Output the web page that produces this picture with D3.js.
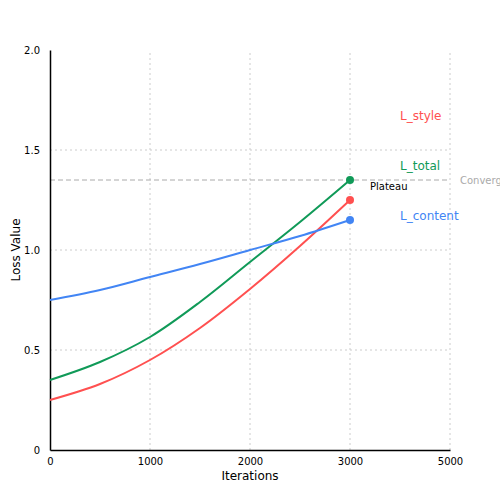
<!DOCTYPE html><html><head><script src="https://cdn.jsdelivr.net/npm/d3@7"></script>
<style>body{margin:0;background:#fff}text{font-family:"DejaVu Sans",sans-serif}</style></head><body>
<svg id="c" width="500" height="500"></svg>
<script>
const iters=[0,500,1000,1500,2000,2500,3000];
const lContent=[0.75,0.80,0.865,0.93,1.0,1.07,1.15];
const lTotal=[0.35,0.44,0.565,0.74,0.94,1.14,1.35];
const lStyle=[0.25,0.33,0.45,0.61,0.805,1.02,1.25];
const xTicks=[0,1000,2000,3000,4000];
const xTickLabels=["0","1000","2000","3000","5000"];
const yTicks=[0,0.5,1.0,1.5,2.0];
const yTickLabels=["0","0.5","1.0","1.5","2.0"];
const series=[{name:"L_style",v:lStyle,c:"#ff5050",ly:1.67},{name:"L_total",v:lTotal,c:"#109a58",ly:1.42},{name:"L_content",v:lContent,c:"#4285f4",ly:1.17}];
const svg=d3.select("#c");
const x=d3.scaleLinear().domain([0,4000]).range([50,450]);
const y=d3.scaleLinear().domain([0,2]).range([450,50]);
const g=svg.append("g");
[1000,2000,3000,4000].forEach(t=>g.append("line").attr("x1",x(t)).attr("x2",x(t)).attr("y1",y(0)).attr("y2",y(2)).attr("stroke","#ccc").attr("stroke-dasharray","2,3"));
[0.5,1,1.5].forEach(t=>g.append("line").attr("x1",x(0)).attr("x2",x(4000)).attr("y1",y(t)).attr("y2",y(t)).attr("stroke","#ccc").attr("stroke-dasharray","2,3"));
g.append("line").attr("x1",x(0)).attr("x2",x(4000)).attr("y1",y(1.35)).attr("y2",y(1.35)).attr("stroke","#aaa").attr("stroke-dasharray","5,3");
svg.append("text").attr("x",460).attr("y",y(1.35)+4).attr("font-size",10).attr("fill","#aaa").text("Convergence");
const xa=svg.append("g").attr("transform","translate(0,450)").call(d3.axisBottom(x).tickValues(xTicks).tickFormat((d,i)=>xTickLabels[i]).tickSize(0).tickPadding(8));
const ya=svg.append("g").attr("transform","translate(50,0)").call(d3.axisLeft(y).tickValues(yTicks).tickFormat((d,i)=>yTickLabels[i]).tickSize(0).tickPadding(10));
[xa,ya].forEach(a=>{a.select(".domain").attr("stroke","#000").attr("stroke-width",1.5);a.selectAll("text").attr("font-size",10).attr("font-family","DejaVu Sans");});
const line=d3.line().x((d,i)=>x(iters[i])).y(d=>y(d)).curve(d3.curveCatmullRom);
series.forEach(s=>{
svg.append("path").attr("d",line(s.v)).attr("fill","none").attr("stroke",s.c).attr("stroke-width",2);
svg.append("circle").attr("cx",x(3000)).attr("cy",y(s.v[6])).attr("r",4).attr("fill",s.c);
svg.append("text").attr("x",400).attr("y",y(s.ly)+4).attr("font-size",12).attr("fill",s.c).text(s.name);
});
svg.append("text").attr("x",370).attr("y",190).attr("font-size",10).text("Plateau");
svg.append("text").attr("x",250).attr("y",480).attr("text-anchor","middle").attr("font-size",12).text("Iterations");
svg.append("text").attr("transform","translate(20,250) rotate(-90)").attr("text-anchor","middle").attr("font-size",12).text("Loss Value");
</script></body></html>
